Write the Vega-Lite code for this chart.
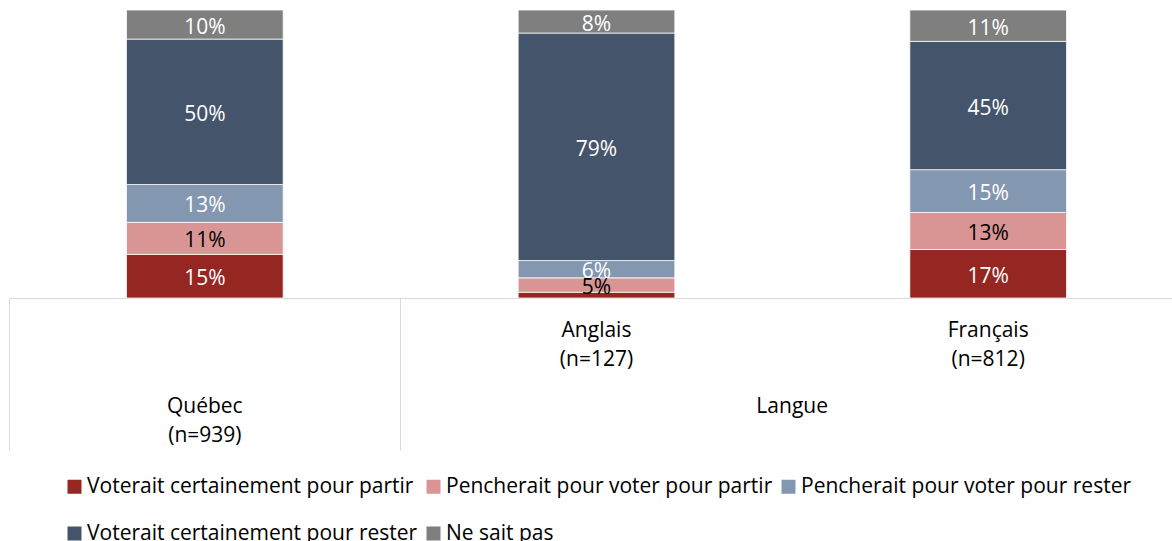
{
  "$schema": "https://vega.github.io/schema/vega-lite/v6.json",
  "width": 1163,
  "height": 288,
  "autosize": "none",
  "padding": {"left": 9, "top": 10, "right": 0, "bottom": 243},
  "background": "white",
  "config": {"view": {"stroke": null}, "font": "Open Sans"},
  "data": {"values": [
    {"cat": "Québec (n=939)", "resp": "Voterait certainement pour partir", "pct": 15},
    {"cat": "Québec (n=939)", "resp": "Pencherait pour voter pour partir", "pct": 11},
    {"cat": "Québec (n=939)", "resp": "Pencherait pour voter pour rester", "pct": 13},
    {"cat": "Québec (n=939)", "resp": "Voterait certainement pour rester", "pct": 50},
    {"cat": "Québec (n=939)", "resp": "Ne sait pas", "pct": 10},
    {"cat": "Anglais (n=127)", "resp": "Voterait certainement pour partir", "pct": 2},
    {"cat": "Anglais (n=127)", "resp": "Pencherait pour voter pour partir", "pct": 5},
    {"cat": "Anglais (n=127)", "resp": "Pencherait pour voter pour rester", "pct": 6},
    {"cat": "Anglais (n=127)", "resp": "Voterait certainement pour rester", "pct": 79},
    {"cat": "Anglais (n=127)", "resp": "Ne sait pas", "pct": 8},
    {"cat": "Français (n=812)", "resp": "Voterait certainement pour partir", "pct": 17},
    {"cat": "Français (n=812)", "resp": "Pencherait pour voter pour partir", "pct": 13},
    {"cat": "Français (n=812)", "resp": "Pencherait pour voter pour rester", "pct": 15},
    {"cat": "Français (n=812)", "resp": "Voterait certainement pour rester", "pct": 45},
    {"cat": "Français (n=812)", "resp": "Ne sait pas", "pct": 11}
  ]},
  "transform": [
    {"calculate": "indexof(['Voterait certainement pour partir','Pencherait pour voter pour partir','Pencherait pour voter pour rester','Voterait certainement pour rester','Ne sait pas'], datum.resp)", "as": "ord"},
    {"stack": "pct", "groupby": ["cat"], "sort": [{"field": "ord", "order": "ascending"}], "offset": "normalize", "as": ["y0", "y1"]},
    {"calculate": "(datum.y0 + datum.y1) / 2", "as": "ymid"},
    {"calculate": "datum.pct + '%'", "as": "lbl"}
  ],
  "layer": [
    {
      "mark": {"type": "bar", "width": {"band": 0.4}, "stroke": "white", "strokeWidth": 0.75},
      "encoding": {
        "x": {
          "field": "cat", "type": "nominal",
          "sort": ["Québec (n=939)", "Anglais (n=127)", "Français (n=812)"],
          "scale": {"domain": ["Québec (n=939)", "Anglais (n=127)", "Français (n=812)"], "range": [0, 1175], "paddingInner": 0, "paddingOuter": 0},
          "axis": {
            "orient": "bottom", "title": null, "ticks": false,
            "domainColor": "#d9d9d9", "domainWidth": 1,
            "labelExpr": "indexof(datum.value, 'Québec') == 0 ? '' : split(datum.value, ' ')",
            "labelAngle": 0, "labelFont": "Open Sans", "labelFontSize": 21, "labelColor": "#000000",
            "labelBaseline": "alphabetic", "labelPadding": 38.7, "labelLineHeight": 28.5,
            "labelLimit": 0, "labelOverlap": false
          }
        },
        "y": {"field": "y0", "type": "quantitative", "scale": {"domain": [0, 1]}, "axis": null},
        "y2": {"field": "y1"},
        "color": {
          "field": "resp", "type": "nominal",
          "sort": ["Voterait certainement pour partir", "Pencherait pour voter pour partir", "Pencherait pour voter pour rester", "Voterait certainement pour rester", "Ne sait pas"],
          "scale": {
            "domain": ["Voterait certainement pour partir", "Pencherait pour voter pour partir", "Pencherait pour voter pour rester", "Voterait certainement pour rester", "Ne sait pas"],
            "range": ["#962622", "#D99594", "#8497B0", "#44546A", "#7F7F7F"]
          },
          "legend": {
            "title": null, "orient": "none", "legendX": 55, "legendY": 466,
            "direction": "horizontal", "columns": 3,
            "symbolType": "square", "symbolSize": 196, "symbolStrokeWidth": 0,
            "labelFont": "Open Sans", "labelFontSize": 21, "labelColor": "#000000",
            "labelOffset": 2, "columnPadding": 5, "rowPadding": 25, "labelLimit": 0, "padding": 0
          }
        }
      }
    },
    {
      "transform": [{"filter": "datum.pct >= 3"}],
      "mark": {"type": "text", "fontSize": 21, "font": "Open Sans", "baseline": "middle", "dy": 3},
      "encoding": {
        "x": {
          "field": "cat", "type": "nominal",
          "sort": ["Québec (n=939)", "Anglais (n=127)", "Français (n=812)"],
          "scale": {"domain": ["Québec (n=939)", "Anglais (n=127)", "Français (n=812)"], "range": [0, 1175], "paddingInner": 0, "paddingOuter": 0},
          "axis": {
            "orient": "bottom", "title": null, "domain": false,
            "ticks": true, "tickSize": 152, "tickColor": "#d9d9d9", "tickWidth": 1,
            "bandPosition": 0,
            "tickOpacity": {"condition": {"test": "datum.value == 'Français (n=812)'", "value": 0}, "value": 1},
            "labelExpr": "indexof(datum.value, 'Québec') == 0 ? split(datum.value, ' ') : (indexof(datum.value, 'Français') == 0 ? 'Langue' : '')",
            "labelOffset": {"condition": {"test": "datum.value == 'Français (n=812)'", "value": -196}, "value": 0},
            "labelAngle": 0, "labelFont": "Open Sans", "labelFontSize": 21, "labelColor": "#000000",
            "labelBaseline": "alphabetic", "labelPadding": -37.3, "labelLineHeight": 29,
            "labelLimit": 0, "labelOverlap": false
          }
        },
        "y": {"field": "ymid", "type": "quantitative", "scale": {"domain": [0, 1]}, "axis": null},
        "text": {"field": "lbl", "type": "nominal"},
        "color": {"condition": {"test": "datum.resp == 'Pencherait pour voter pour partir'", "value": "#000000"}, "value": "#ffffff"}
      }
    }
  ],
  "resolve": {"axis": {"x": "independent"}}
}
